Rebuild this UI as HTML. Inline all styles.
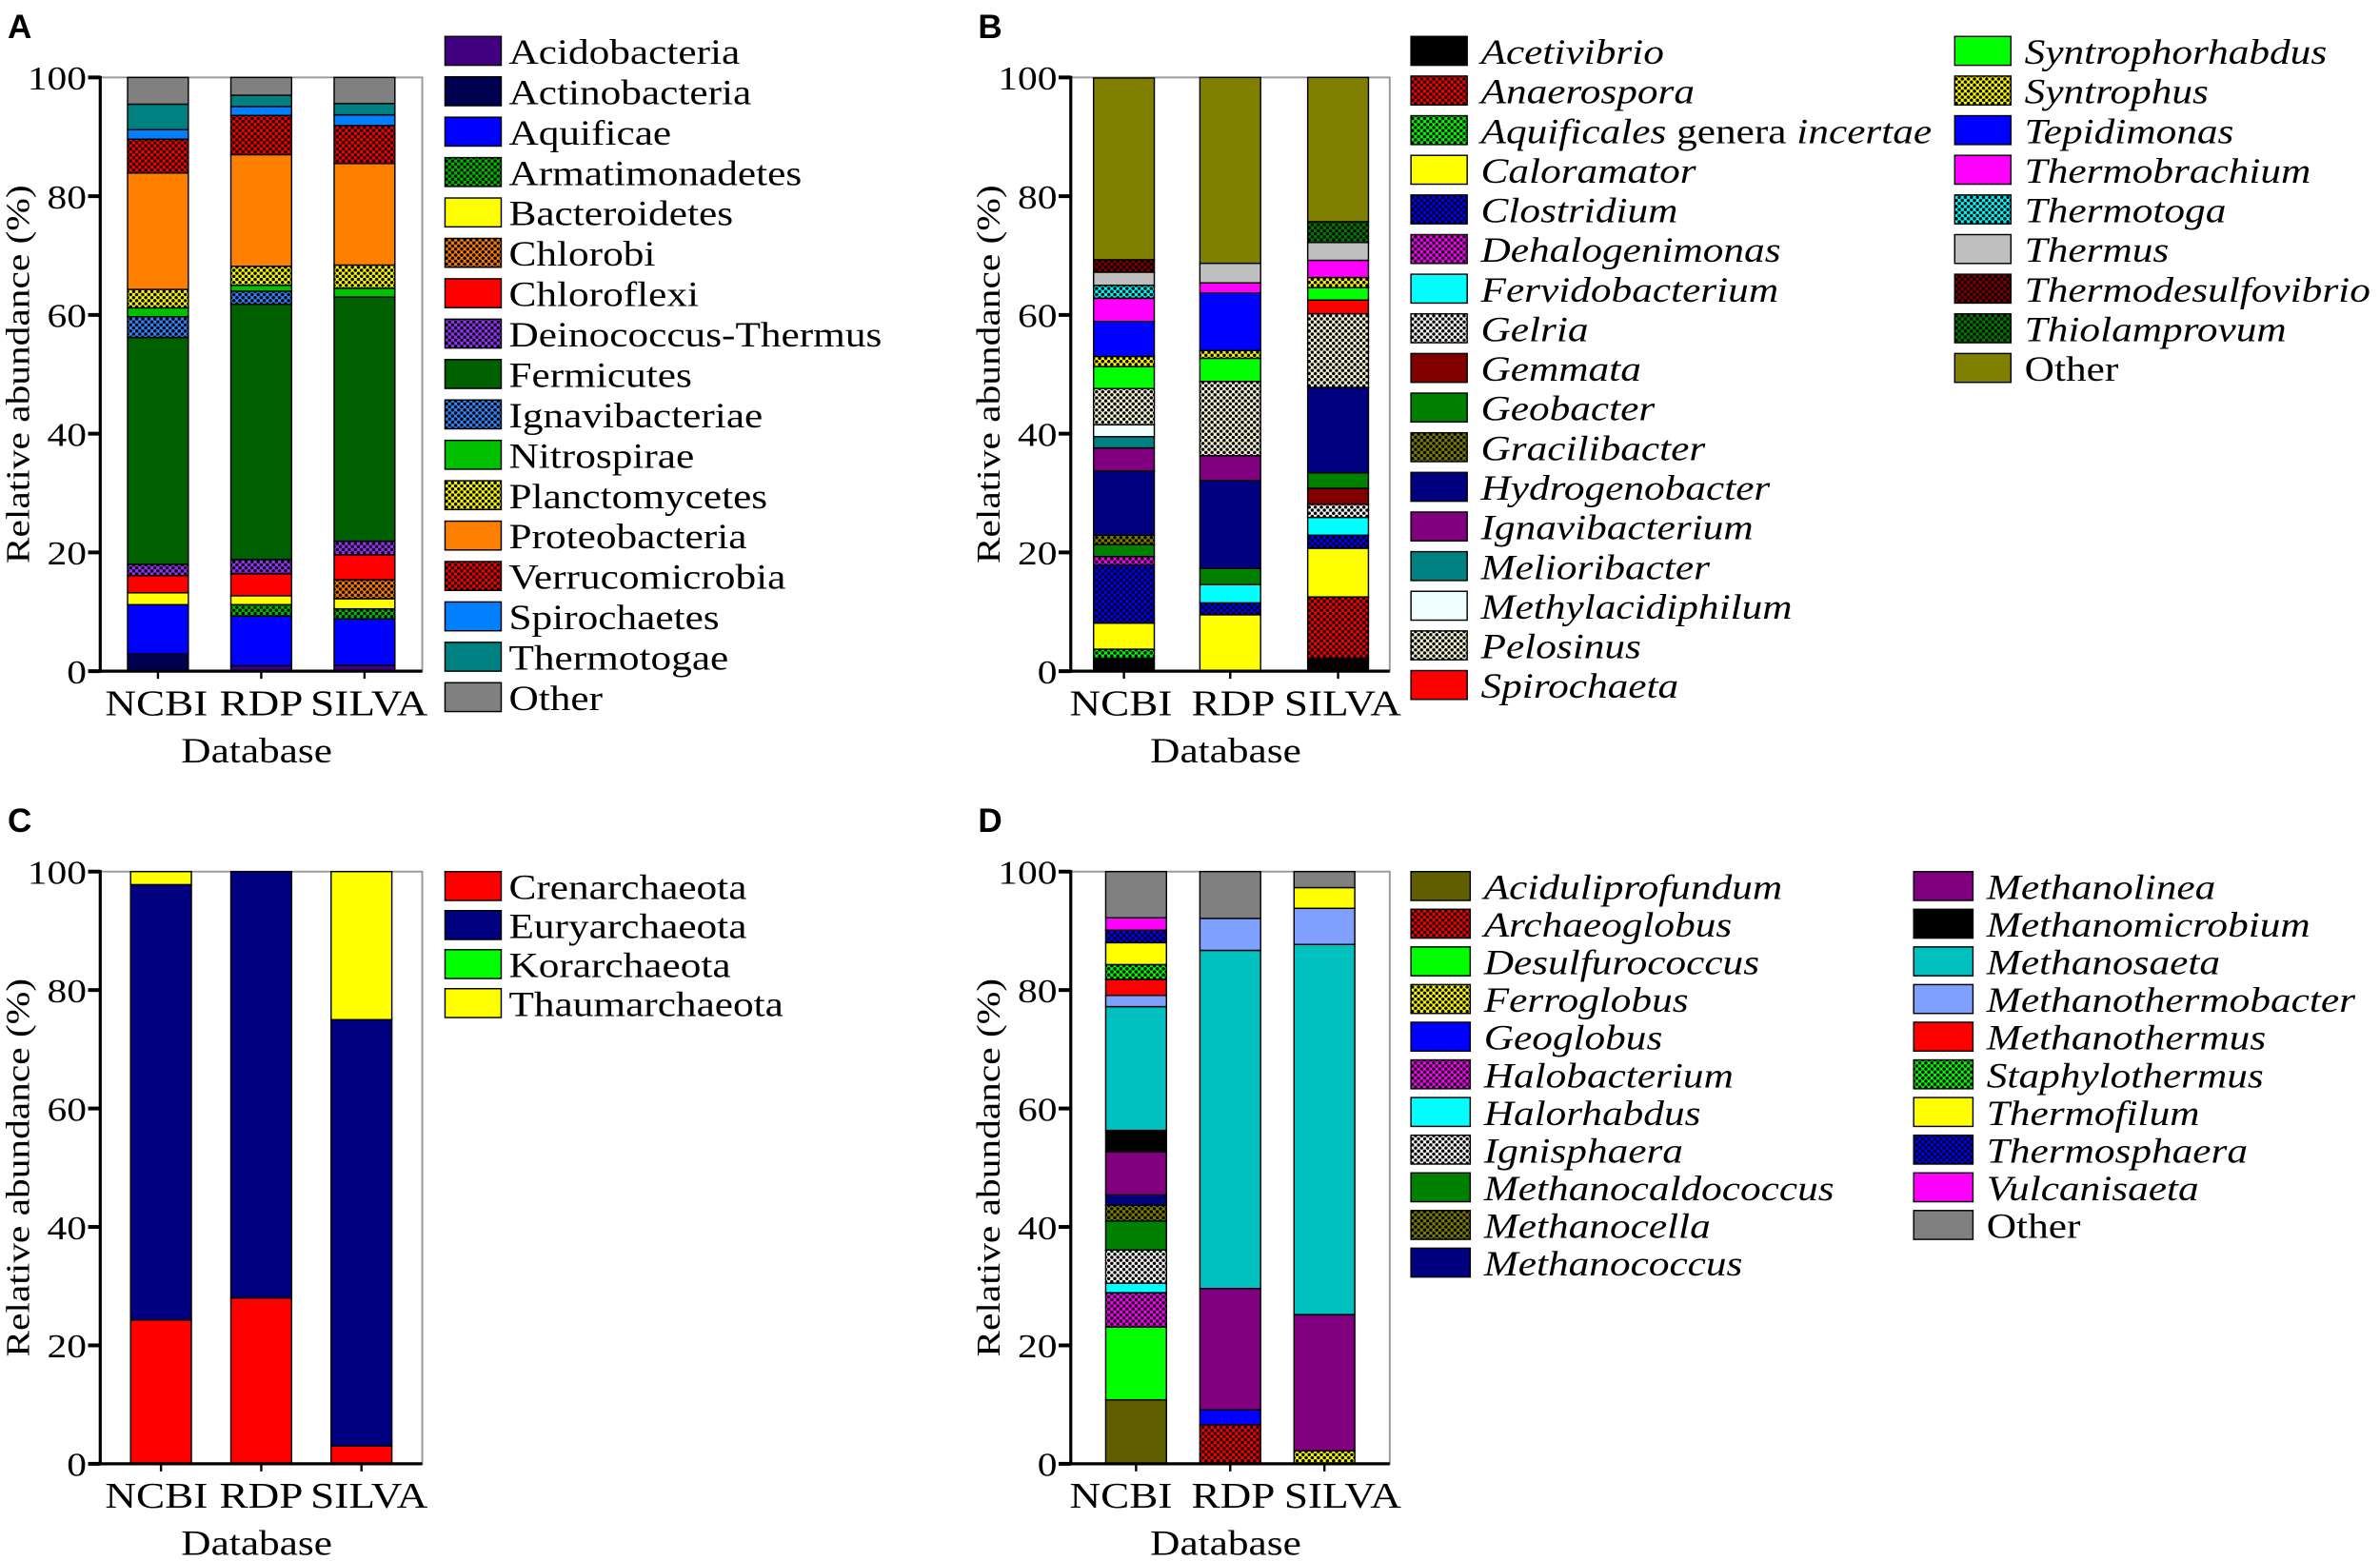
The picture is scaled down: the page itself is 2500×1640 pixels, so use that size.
<!DOCTYPE html>
<html><head><meta charset="utf-8"><style>
html,body{margin:0;padding:0;background:#fff;}
svg{display:block;font-family:"Liberation Serif",serif;}
</style></head><body>
<svg id="fig" width="2500" height="1640" viewBox="0 0 1567 1028" preserveAspectRatio="none" xmlns="http://www.w3.org/2000/svg"><defs id="defs"></defs></svg>
<script>
const dbs = ["NCBI","RDP","SILVA"];
// Panel A (phylum, bacteria)
const aTaxa = ["Acidobacteria","Actinobacteria","Aquificae","Armatimonadetes","Bacteroidetes","Chlorobi","Chloroflexi","Deinococcus-Thermus","Fermicutes","Ignavibacteriae","Nitrospirae","Planctomycetes","Proteobacteria","Verrucomicrobia","Spirochaetes","Thermotogae","Other"];
const aNCBI = [0,2.9,8.3,0,2.0,0,2.9,1.9,38.2,3.5,1.5,3.1,19.6,5.7,1.6,4.3,4.5];
const aRDP = [0.9,0,8.4,1.9,1.5,0,3.7,2.4,43.0,2.2,1.0,3.2,18.8,6.6,1.5,1.9,3.0];
const aSILVA = [1.0,0,7.8,1.7,1.7,3.2,4.2,2.3,41.1,0,1.5,3.9,17.1,6.4,1.8,1.9,4.4];
const aColors = ["#400080","#000050","#0000ff","#00c000","#ffff00","#ff8000","#ff0000","#9933ff","#006000","#3388ff","#00c000","#ffff00","#ff8000","#ff0000","#0080ff","#008080","#808080"];
const aPat = [0,0,0,1,0,1,0,1,0,1,0,1,0,1,0,0,0];
// Panel B (genus, bacteria)
const bTaxa = ["Acetivibrio","Anaerospora","Aquificales genera incertae","Caloramator","Clostridium","Dehalogenimonas","Fervidobacterium","Gelria","Gemmata","Geobacter","Gracilibacter","Hydrogenobacter","Ignavibacterium","Melioribacter","Methylacidiphilum","Pelosinus","Spirochaeta","Syntrophorhabdus","Syntrophus","Tepidimonas","Thermobrachium","Thermotoga","Thermus","Thermodesulfovibrio","Thiolamprovum","Other"];
const bNCBI = [2.2,0,1.5,4.4,9.8,1.4,0,0,0,2.0,1.6,10.8,3.9,1.9,2.0,6.1,0,3.7,1.7,5.9,3.9,2.2,2.2,2.1,0,30.6];
const bRDP = [0,0,0,9.5,2.0,0,3.1,0,0,2.7,0,14.8,4.2,0,0,12.5,0,3.9,1.3,9.7,1.7,0,3.3,0,0,31.3];
const bSILVA = [2.2,10.3,0,8.2,2.2,0,3.0,2.2,2.7,2.6,0,14.4,0,0,0,12.4,2.3,2.1,1.7,0,2.9,0,3.0,0,3.5,24.3];
const bColors = ["#000000","#ff0000","#00ff00","#ffff00","#0000ff","#ff00ff","#00ffff","#ffffff","#800000","#008000","#808000","#000080","#800080","#008080","#f0ffff","#ffffe0","#ff0000","#00ff00","#ffff00","#0000ff","#ff00ff","#00ffff","#c0c0c0","#800000","#008000","#808000"];
const bPat = [0,1,1,0,1,1,0,1,0,0,1,0,0,0,0,1,0,0,1,0,0,1,0,1,1,0];
// Panel C (phylum, archaea)
const cTaxa = ["Crenarchaeota","Euryarchaeota","Korarchaeota","Thaumarchaeota"];
const cNCBI = [24.3,73.5,0,2.2];
const cRDP = [28.0,72.0,0,0];
const cSILVA = [3.0,72.0,0,25.0];
const cColors = ["#ff0000","#000080","#00ff00","#ffff00"];
const cPat = [0,0,0,0];
// Panel D (genus, archaea)
const dTaxa = ["Aciduliprofundum","Archaeoglobus","Desulfurococcus","Ferroglobus","Geoglobus","Halobacterium","Halorhabdus","Ignisphaera","Methanocaldococcus","Methanocella","Methanococcus","Methanolinea","Methanomicrobium","Methanosaeta","Methanothermobacter","Methanothermus","Staphylothermus","Thermofilum","Thermosphaera","Vulcanisaeta","Other"];
const dNCBI = [10.8,0,12.3,0,0,5.8,1.6,5.6,4.9,2.7,1.7,7.3,3.6,20.9,1.9,2.7,2.5,3.7,2.1,2.1,7.8];
const dRDP = [0,6.6,0,0,2.5,0,0,0,0,0,0,20.5,0,57.1,5.4,0,0,0,0,0,7.9];
const dSILVA = [0,0,0,2.2,0,0,0,0,0,0,0,23.0,0,62.5,6.1,0,0,3.5,0,0,2.7];
const dColors = ["#5f5f00","#ff0000","#00ff00","#ffff00","#0000ff","#ff00ff","#00ffff","#ffffff","#008000","#808000","#000080","#800080","#000000","#00c0c0","#80a0ff","#ff0000","#00ff00","#ffff00","#0000ff","#ff00ff","#808080"];
const dPat = [0,1,0,1,0,1,0,1,0,1,0,0,0,0,0,0,1,0,1,0,0];
const yTicks = [0,20,40,60,80,100];

const SX = 1.18;
const NS="http://www.w3.org/2000/svg";
const svg=document.getElementById('fig'), defs=document.getElementById('defs');
function mk(tag,attrs,parent){const e=document.createElementNS(NS,tag);for(const k in attrs)e.setAttribute(k,attrs[k]);(parent||svg).appendChild(e);return e;}
function txt(parent,x,y,size,anchor,rot){
  const tr='translate('+x+','+y+')'+(rot?' rotate('+rot+')':'')+' scale('+SX+',1)';
  return mk('text',{x:0,y:0,'font-size':size,'text-anchor':anchor,transform:tr},parent);
}
const patIds={};
function fillFor(c,p){
  if(!p) return c;
  if(patIds[c]) return 'url(#'+patIds[c]+')';
  const id='pat'+Object.keys(patIds).length;patIds[c]=id;
  const pt=mk('pattern',{id:id,width:4,height:4,patternUnits:'userSpaceOnUse'},defs);
  mk('rect',{x:0,y:0,width:4,height:4,fill:c},pt);
  [[0,0],[4,0],[0,4],[4,4],[2,2]].forEach(q=>mk('circle',{cx:q[0],cy:q[1],r:1.1,fill:'#000'},pt));
  return 'url(#'+id+')';
}
function panel(cfg){
  const g=mk('g',{});
  
  
  const y=v=>cfg.y0-(cfg.y0-cfg.y100)*v/100;
  const lt=mk('text',{x:cfg.ax-61,y:cfg.y100-26,'font-family':'Liberation Sans, sans-serif','font-weight':'bold','font-size':22},g);
  lt.textContent=cfg.letter;
  
  
  const fr=mk('rect',{x:cfg.ax,y:cfg.y100,width:cfg.fx-cfg.ax,height:cfg.y0-cfg.y100,fill:'none',stroke:'#999','stroke-width':1.2},g);
  
  
  const series=[cfg.ncbi,cfg.rdp,cfg.silva];
  series.forEach((vals,bi)=>{
    let acc=0;
    const cx=cfg.bx[bi];
    vals.forEach((v,i)=>{
      if(v<=0) return;
      const r=mk('rect',{x:cx-20,y:y(acc+v),width:40,height:y(acc)-y(acc+v),fill:fillFor(cfg.colors[i],cfg.pat[i]),stroke:'#000','stroke-width':0.9},g);
      
      
      acc+=v;
    });
    mk('line',{x1:cx,x2:cx,y1:cfg.y0,y2:cfg.y0+5,stroke:'#000','stroke-width':1.5},g);
    const xl=txt(g,cfg.lx[bi],cfg.y0+29,24,'middle');
    xl.textContent=dbs[bi];
    
    
  });
  mk('line',{x1:cfg.ax,x2:cfg.ax,y1:cfg.y100-1,y2:cfg.y0+1,stroke:'#000','stroke-width':2},g);
  mk('line',{x1:cfg.ax,x2:cfg.fx,y1:cfg.y0,y2:cfg.y0,stroke:'#000','stroke-width':2},g);
  yTicks.forEach(t=>{
    mk('line',{x1:cfg.ax-8,x2:cfg.ax,y1:y(t),y2:y(t),stroke:'#000','stroke-width':2.5},g);
    const tl=txt(g,cfg.ax-9,y(t)+8,22,'end');
    tl.textContent=t;
    
    
  });
  const yt=txt(g,cfg.ax-47,(cfg.y0+cfg.y100)/2,22,'middle',-90);
  yt.textContent='Relative abundance (%)';
  
  
  const xt=txt(g,(cfg.ax+cfg.fx)/2-3,cfg.y0+60,23,'middle');
  xt.textContent='Database';
  
  
  cfg.taxa.forEach((t,i)=>{
    const col=Math.floor(i/cfg.perCol), row=i%cfg.perCol;
    const lx=cfg.legX[col], ly=cfg.legY+row*cfg.legDy;
    const lg=mk('g',{},g);
    
    
    mk('rect',{x:lx,y:ly-10,width:cfg.sw,height:19,fill:fillFor(cfg.colors[i],cfg.pat[i]),stroke:'#000','stroke-width':0.9},lg);
    const tx=txt(lg,lx+cfg.sw+cfg.tg,ly+8,23,'start');
    if(cfg.italic && t!=='Other'){
      if(t==='Aquificales genera incertae'){
        const s1=mk('tspan',{'font-style':'italic'},tx);s1.textContent='Aquificales';
        const s2=mk('tspan',{},tx);s2.textContent=' genera ';
        const s3=mk('tspan',{'font-style':'italic'},tx);s3.textContent='incertae';
      } else {tx.setAttribute('font-style','italic');tx.textContent=t;}
    } else tx.textContent=t;
  });
}
panel({name:'panel-a',letter:'A',ax:66,fx:278,y0:442,y100:51,bx:[104,172,240],lx:[103,172,243],ncbi:aNCBI,rdp:aRDP,silva:aSILVA,taxa:aTaxa,colors:aColors,pat:aPat,perCol:17,legX:[293],sw:37,tg:5,legY:34,legDy:26.6,italic:false});
panel({name:'panel-b',letter:'B',ax:705,fx:915,y0:442,y100:51,bx:[740,810,881],lx:[738,812,884],ncbi:bNCBI,rdp:bRDP,silva:bSILVA,taxa:bTaxa,colors:bColors,pat:bPat,perCol:17,legX:[929,1287],sw:37,tg:9,legY:34,legDy:26.1,italic:true});
panel({name:'panel-c',letter:'C',ax:66,fx:278,y0:964,y100:574,bx:[106,172,238],lx:[103,172,243],ncbi:cNCBI,rdp:cRDP,silva:cSILVA,taxa:cTaxa,colors:cColors,pat:cPat,perCol:17,legX:[293],sw:37,tg:5,legY:584,legDy:25.7,italic:false});
panel({name:'panel-d',letter:'D',ax:705,fx:915,y0:964,y100:574,bx:[748,810,872],lx:[738,812,884],ncbi:dNCBI,rdp:dRDP,silva:dSILVA,taxa:dTaxa,colors:dColors,pat:dPat,perCol:11,legX:[929,1260],sw:39,tg:9,legY:584,legDy:24.8,italic:true});
</script>
</body></html>
